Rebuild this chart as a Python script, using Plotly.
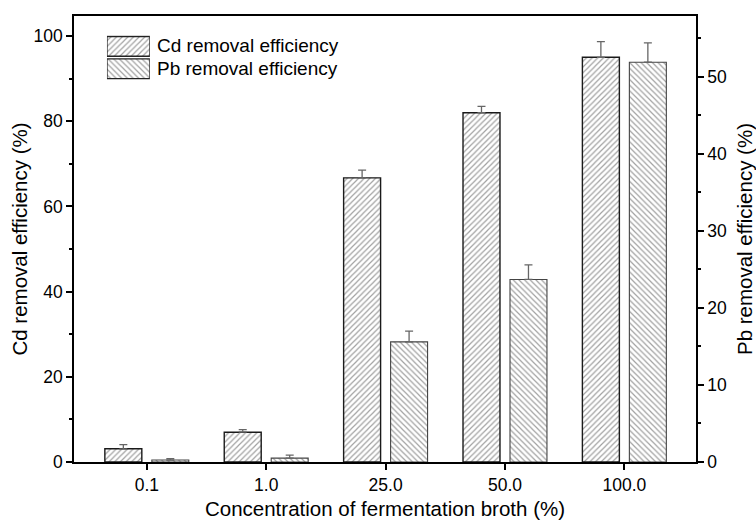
import plotly.graph_objects as go

categories = ["0.1", "1.0", "25.0", "50.0", "100.0"]
cd_values = [3.1, 7.0, 66.7, 82.0, 95.0]
cd_errors = [1.0, 0.6, 1.8, 1.5, 3.7]
pb_values = [0.25, 0.5, 15.6, 23.7, 51.9]
pb_errors = [0.2, 0.4, 1.4, 1.9, 2.5]
legend_names = ["Pb removal efficiency", "Cd removal efficiency"]

FONT = "Liberation Sans, Arial, sans-serif"
HATCH = "#444444"

fig = go.Figure()
fig.add_trace(go.Bar(
    x=categories, y=cd_values, name="Cd removal efficiency",
    yaxis="y", offsetgroup="cd", showlegend=False,
    marker=dict(color="white", line=dict(color="#1a1a1a", width=1.4),
                pattern=dict(shape="/", fgcolor=HATCH, bgcolor="white", size=4, solidity=0.3)),
    error_y=dict(type="data", array=cd_errors, arrayminus=[0]*5, symmetric=False,
                 color="#666666", thickness=1.3, width=4),
))
fig.add_trace(go.Bar(
    x=categories, y=pb_values, name="Pb removal efficiency",
    yaxis="y2", offsetgroup="pb", showlegend=False,
    marker=dict(color="white", line=dict(color="#444444", width=1.1),
                pattern=dict(shape="\\", fgcolor=HATCH, bgcolor="white", size=4, solidity=0.3)),
    error_y=dict(type="data", array=pb_errors, arrayminus=[0]*5, symmetric=False,
                 color="#666666", thickness=1.3, width=4),
))
# legend key boxes (inset axis)
fig.add_trace(go.Bar(
    y=legend_names, x=[1, 1], orientation="h", xaxis="x3", yaxis="y3",
    width=0.88, showlegend=False, hoverinfo="skip",
    marker=dict(color="white", line=dict(color="#222222", width=1.3),
                pattern=dict(shape=["\\", "/"], fgcolor=HATCH, bgcolor="white", size=4, solidity=0.3)),
))

axis_common = dict(showgrid=False, zeroline=False, linecolor="black", linewidth=1.5,
                   tickcolor="black", tickwidth=1.5, ticks="outside", automargin=False,
                   tickfont=dict(family=FONT, size=17.5, color="black"))

fig.update_layout(
    width=756, height=526,
    margin=dict(l=74, r=60, t=16, b=64),
    paper_bgcolor="white", plot_bgcolor="white",
    barmode="group", bargap=0.213, bargroupgap=0.213,
    font=dict(family=FONT, color="black"),
    xaxis=dict(type="category", range=[-0.61, 4.6], showline=True, mirror=True,
               ticklen=6,
               title=dict(text="Concentration of fermentation broth (%)",
                          font=dict(family=FONT, size=20.5), standoff=8),
               **axis_common),
    yaxis=dict(range=[0, 104.7], dtick=20, showline=True, mirror=True, ticklen=6,
               minor=dict(dtick=10, ticklen=3, tickcolor="black", ticks="outside", tickwidth=1.5),
               title=dict(text="Cd removal efficiency (%)",
                          font=dict(family=FONT, size=20.5), standoff=0),
               **axis_common),
    yaxis2=dict(range=[0, 57.9], dtick=10, overlaying="y", side="right", showline=True,
                ticklen=6,
                minor=dict(dtick=5, ticklen=3, tickcolor="black", ticks="outside", tickwidth=1.5),
                title=dict(text="Pb removal efficiency (%)",
                           font=dict(family=FONT, size=20.5), standoff=13),
                **axis_common),
    xaxis3=dict(domain=[0.053, 0.122], anchor="y3", range=[0, 1], visible=False, fixedrange=True),
    yaxis3=dict(domain=[0.8565, 0.957], anchor="x3", type="category", range=[-0.5, 1.5],
                visible=False, fixedrange=True),
    showlegend=False,
)

for name, ypos in zip(legend_names[::-1], [0.934, 0.883]):
    fig.add_annotation(text=name, xref="paper", yref="paper", x=0.13, y=ypos,
                       xanchor="left", yanchor="middle", showarrow=False,
                       font=dict(family=FONT, size=19, color="black"))

fig.write_html("out.html", config={"displayModeBar": False},
               post_script="document.body.style.margin='0';document.body.style.overflow='hidden';")
